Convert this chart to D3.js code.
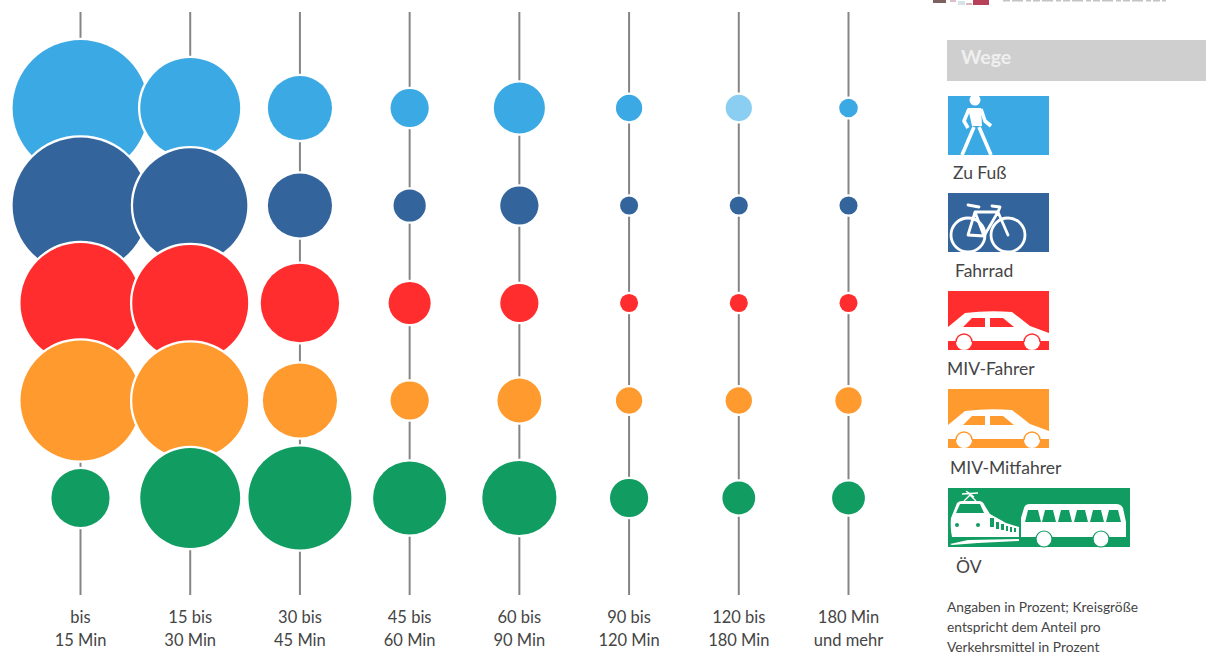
<!DOCTYPE html>
<html lang="de">
<head>
<meta charset="utf-8">
<title>Wegedauer nach Verkehrsmittel</title>
<script src="https://cdn.jsdelivr.net/npm/d3@7/dist/d3.min.js"></script>
<style>
  html, body { margin: 0; padding: 0; background: #fff; }
  svg { display: block; }
  text { font-family: Lato, "Open Sans", sans-serif; fill: #454545; }
</style>
</head>
<body>
<svg id="chart" width="1206" height="655"></svg>
<script>
// Anteil der Wege je Dauerklasse, in Prozent pro Verkehrsmittel
const bandLabels = [
  ["bis", "15 Min"], ["15 bis", "30 Min"], ["30 bis", "45 Min"], ["45 bis", "60 Min"],
  ["60 bis", "90 Min"], ["90 bis", "120 Min"], ["120 bis", "180 Min"], ["180 Min", "und mehr"]
];
const modeNames = ["Zu Fuß", "Fahrrad", "MIV-Fahrer", "MIV-Mitfahrer", "ÖV"];
const modeColors = ["#3BA9E4", "#33659C", "#FF2D2D", "#FF9A2E", "#119C62"];
const zuFuss = [48, 26, 10.7, 3.8, 6.8, 1.8, 1.8, 0.9];
const fahrrad = [48, 34, 10.7, 2.7, 3.8, 0.85, 0.85, 0.85];
const mivFahrer = [37.5, 35, 16, 4.6, 3.8, 0.85, 0.85, 0.85];
const mivMitfahrer = [37.5, 35, 14.3, 3.8, 5, 1.8, 1.8, 1.8];
const oev = [8.8, 26, 27.6, 13.9, 14.3, 3.8, 2.8, 2.8];
const shares = [zuFuss, fahrrad, mivFahrer, mivMitfahrer, oev];
const footnote = ["Angaben in Prozent; Kreisgröße", "entspricht dem Anteil pro", "Verkehrsmittel in Prozent"];

const svg = d3.select("#chart");

const x = d3.scalePoint().domain(d3.range(bandLabels.length)).range([80.5, 848.5]);
const y = d3.scalePoint().domain(d3.range(modeNames.length)).range([108, 498]);
const r = d3.scaleSqrt().domain([0, 100]).range([0, 98]);

// Senkrechte Führungslinien hinter den Kreisen
svg.append("g").selectAll("line")
  .data(bandLabels)
  .join("line")
  .attr("x1", (d, i) => x(i)).attr("x2", (d, i) => x(i))
  .attr("y1", 12).attr("y2", 595)
  .attr("stroke", "#858585").attr("stroke-width", 2);

// Spaltenweise zeichnen: spätere Zeilen und Spalten liegen obenauf
const bubbleData = d3.range(bandLabels.length).flatMap(col =>
  d3.range(modeNames.length).map(row => ({ col, row, value: shares[row][col] })));

svg.append("g").selectAll("circle")
  .data(bubbleData)
  .join("circle")
  .attr("cx", d => x(d.col))
  .attr("cy", d => y(d.row))
  .attr("r", d => r(d.value))
  // Der Fußweg-Kreis der Klasse 120 bis 180 Min ist heller abgesetzt
  .attr("fill", d => (d.row === 0 && d.col === 6) ? "#8ACFF1" : modeColors[d.row])
  .attr("stroke", "#fff")
  .attr("stroke-width", 4.5)
  .attr("paint-order", "stroke");

// Beschriftung der Dauerklassen
const bandText = svg.append("g").selectAll("text")
  .data(bandLabels)
  .join("text")
  .attr("text-anchor", "middle")
  .attr("font-size", 16.5);
bandText.append("tspan").attr("x", (d, i) => x(i)).attr("y", 623).text(d => d[0]);
bandText.append("tspan").attr("x", (d, i) => x(i)).attr("y", 646).text(d => d[1]);

// Angeschnittene Kopfzeile oben rechts
const header = svg.append("g");
[[933, 0, 13, 3, "#7d6060"], [950, 0, 6, 2, "#d8c0c5"], [958, 1, 7, 4, "#d5e4e8"], [966, 3, 6, 2, "#d8b8be"],
 [973, 0, 16, 5, "#b84058"]].forEach(([a, b, w, h, c]) =>
  header.append("rect").attr("x", a).attr("y", b).attr("width", w).attr("height", h).attr("fill", c));
header.append("line").attr("x1", 1003).attr("x2", 1166).attr("y1", 0.5).attr("y2", 0.5)
  .attr("stroke", "#c4c4c4").attr("stroke-width", 2).attr("stroke-dasharray", "7 2 11 3 5 2");

// Legendentitel
svg.append("rect").attr("x", 947).attr("y", 40).attr("width", 259).attr("height", 41).attr("fill", "#CFCFCF");
svg.append("text").attr("x", 961).attr("y", 64).attr("font-size", 19.5).attr("font-weight", 700)
  .style("fill", "#EFEFEF").text("Wege");

// Piktogramme, jeweils im eigenen Koordinatensystem der Kachel
function pedestrian(g) {
  g.append("circle").attr("cx", 27).attr("cy", 4).attr("r", 5.5).attr("fill", "#fff");
  g.append("path").attr("d", "M20 12L33 12L34 30L24 30Z").attr("fill", "#fff");
  g.append("path")
    .attr("d", "M21 13L16 25L20 32M33 13L37 25L43 30M26 31L14 59M31 31L43 59")
    .attr("fill", "none").attr("stroke", "#fff").attr("stroke-width", 3.6).attr("stroke-linejoin", "round");
}

function bicycle(g) {
  const s = { fill: "none", stroke: "#fff", "stroke-width": 2.8, "stroke-linejoin": "round", "stroke-linecap": "round" };
  const add = sel => { Object.entries(s).forEach(([k, v]) => sel.attr(k, v)); return sel; };
  add(g.append("circle").attr("cx", 20).attr("cy", 42).attr("r", 17));
  add(g.append("circle").attr("cx", 60).attr("cy", 42).attr("r", 17));
  add(g.append("path").attr("d",
    "M20 42L27 19L50 19L60 42M27 19L36 43L50 19M20 42L36 43M20 12L31 14M44 13L52 14L50 19"));
}

function car(g, color) {
  g.append("path")
    .attr("d", "M0 36L17 22Q40 19 64 21L82 35L101 42L101 51L0 51Z")
    .attr("fill", "#fff");
  g.append("path").attr("d", "M15 36L24 27L37 27L37 36Z M42 36L42 27L55 27L66 36Z").attr("fill", color);
  g.append("rect").attr("x", 0).attr("y", 50).attr("width", 101).attr("height", 9).attr("fill", color);
  [16, 84].forEach(cx => g.append("circle").attr("cx", cx).attr("cy", 51).attr("r", 8)
    .attr("fill", "#fff").attr("stroke", color).attr("stroke-width", 1.4)
    .attr("stroke-dasharray", "25 25").attr("transform", `rotate(180 ${cx} 51)`));
}

function transit(g, color) {
  // Triebwagen mit Stromabnehmer
  g.append("path")
    .attr("d", "M16 13L22 7L28 13M14 6L30 5M18 3L26 9")
    .attr("fill", "none").attr("stroke", "#fff").attr("stroke-width", 1.4);
  g.append("path")
    .attr("d", "M3 30L9 15Q11 13 14 13L31 13Q35 13 37 18L42 26L58 35L71 39L71 49L4 49Q2 40 3 30Z")
    .attr("fill", "#fff");
  g.append("path").attr("d", "M8 25L12 16L32 16L36 25Z").attr("fill", color);
  [9, 30].forEach(cx => g.append("circle").attr("cx", cx).attr("cy", 37).attr("r", 2).attr("fill", color));
  [[42, 30, 4, 9], [48, 34, 3, 7], [53, 36, 3, 6], [58, 38, 2, 5], [62, 39, 2, 5], [66, 40, 2, 4]]
    .forEach(([a, b, w, h]) => g.append("rect").attr("x", a).attr("y", b).attr("width", w).attr("height", h).attr("fill", color));
  g.append("path").attr("d", "M2 56L20 52L71 51L71 53L30 55L4 57Z").attr("fill", "#fff");
  // Bus
  g.append("path")
    .attr("d", "M73 49L73 30L76 20Q77 16 82 16L168 16Q173 16 175 20L178 34L178 49Z")
    .attr("fill", "#fff");
  [[77, 93], [94, 108], [110, 124], [126, 140], [142, 156], [158, 173]].forEach(([a, b]) =>
    g.append("path").attr("d", `M${a} 34L${a + 3} 22L${b - 3} 22L${b} 34Z`).attr("fill", color));
  [96, 153].forEach(cx => g.append("circle").attr("cx", cx).attr("cy", 51).attr("r", 8)
    .attr("fill", "#fff").attr("stroke", color).attr("stroke-width", 1.2));
}

// Legendenkacheln mit Piktogramm und Beschriftung
const tileTop = [96, 193, 291, 389, 488];
const tileWidth = [101, 101, 101, 101, 182];
const tileLabelX = [953, 955, 947, 950, 956];
const tileLabelY = [179, 277, 375, 474, 573];
const drawIcon = [pedestrian, bicycle, car, car, transit];

modeNames.forEach((name, i) => {
  const g = svg.append("g").attr("transform", `translate(948,${tileTop[i]})`);
  g.append("rect").attr("width", tileWidth[i]).attr("height", 59).attr("fill", modeColors[i]);
  drawIcon[i](g, modeColors[i]);
  svg.append("text").attr("x", tileLabelX[i]).attr("y", tileLabelY[i]).attr("font-size", 17.5).text(name);
});

// Hinweis zur Lesart
svg.append("g").selectAll("text")
  .data(footnote)
  .join("text")
  .attr("x", 947)
  .attr("y", (d, i) => 612 + i * 20)
  .attr("font-size", 13.8)
  .text(d => d);
</script>
</body>
</html>
